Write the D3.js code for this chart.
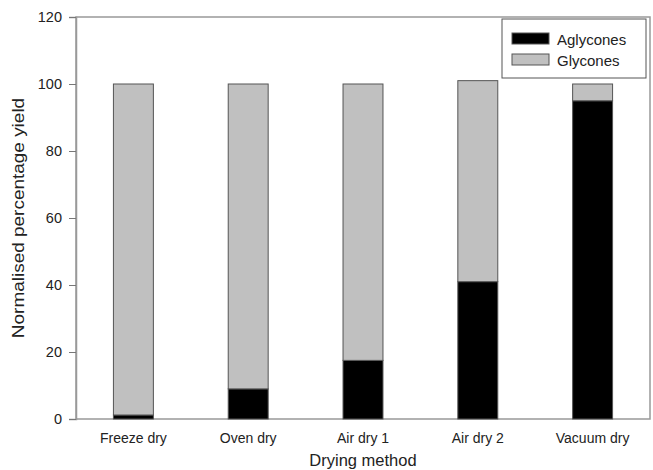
<!DOCTYPE html>
<html><head><meta charset="utf-8">
<script src="https://cdn.jsdelivr.net/npm/d3@7"></script>
<style>body{margin:0;background:#fff}svg{display:block}text{font-family:"Liberation Sans",Arial,sans-serif;fill:#222}</style>
</head><body><svg id="c" width="653" height="470"></svg>
<script>
const categories = ["Freeze dry","Oven dry","Air dry 1","Air dry 2","Vacuum dry"];
const aglycones = [1.2, 9, 17.5, 41, 95];
const glycones = [98.8, 91, 82.5, 60, 5];
const yTicks = [0,20,40,60,80,100,120];
const seriesNames = ["Aglycones","Glycones"];
const colors = ["#000000","#c0c0c0"];

const svg = d3.select("#c");
const m = {l:76, r:3, t:17, b:51};
const W = 653, H = 470;
const x = d3.scaleBand().domain(categories).range([m.l, W-m.r]).paddingInner(0.652).paddingOuter(0.326);
const y = d3.scaleLinear().domain([0,120]).range([H-m.b, m.t]);

const data = categories.map((c,i)=>({cat:c, Aglycones:aglycones[i], Glycones:glycones[i]}));
const stack = d3.stack().keys(seriesNames)(data);

// frame
svg.append("rect").attr("x",m.l).attr("y",m.t).attr("width",W-m.r-m.l).attr("height",H-m.b-m.t)
  .attr("fill","none").attr("stroke","#999").attr("stroke-width",1.5);

svg.append("g").selectAll("g").data(stack).join("g").attr("fill",(d,i)=>colors[i])
  .selectAll("rect").data(d=>d).join("rect")
  .attr("x",d=>x(d.data.cat)).attr("width",x.bandwidth())
  .attr("y",d=>y(d[1])).attr("height",d=>y(d[0])-y(d[1]))
  .attr("stroke","#555").attr("stroke-width",1);

// y axis
const ya = svg.append("g").attr("transform",`translate(${m.l},0)`)
  .call(d3.axisLeft(y).tickValues(yTicks).tickSize(7).tickPadding(7));
ya.select(".domain").attr("stroke","#999").attr("stroke-width",1.5);
ya.selectAll(".tick line").attr("stroke","#777");
ya.selectAll("text").attr("font-size",14.5).style("fill","#222");

// x axis
const xa = svg.append("g").attr("transform",`translate(0,${H-m.b})`)
  .call(d3.axisBottom(x).tickSize(0).tickPadding(14));
xa.select(".domain").remove();
xa.selectAll("text").attr("font-size",14).style("fill","#222");

svg.append("text").attr("x",363).attr("y",466).attr("text-anchor","middle").attr("font-size",16.5).text("Drying method");
svg.append("text").attr("transform","translate(24,218) rotate(-90) scale(1.15,1)").attr("text-anchor","middle").attr("font-size",16.5).text("Normalised percentage yield");

// legend
const lg = svg.append("g");
lg.append("rect").attr("x",502).attr("y",19).attr("width",144).attr("height",59).attr("fill","#fff").attr("stroke","#555").attr("stroke-width",1);
seriesNames.forEach((s,i)=>{
  const yy = 33 + i*21;
  lg.append("rect").attr("x",512).attr("y",yy).attr("width",37).attr("height",11).attr("fill",colors[i]).attr("stroke","#555");
  lg.append("text").attr("x",557).attr("y",yy+11.5).attr("font-size",15).text(s);
});
</script></body></html>
